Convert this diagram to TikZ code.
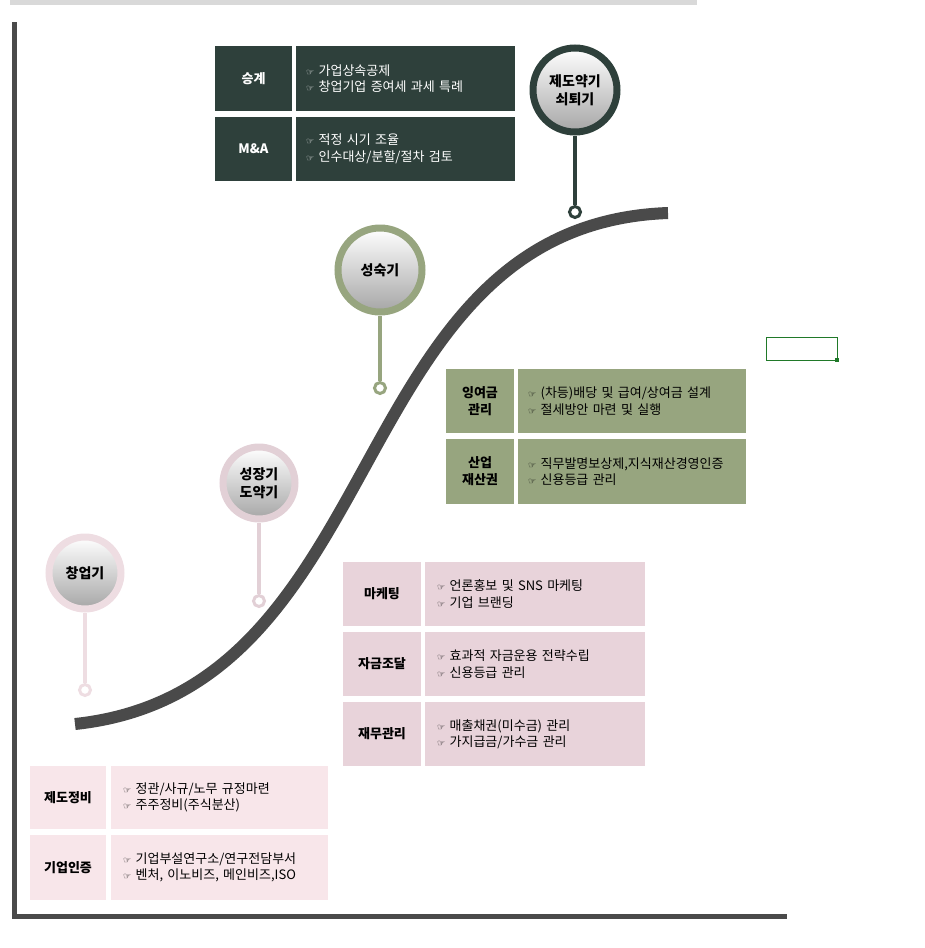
\documentclass[tikz,border=0pt]{standalone}
\usepackage{fontspec}
\setmainfont{Noto Sans CJK KR}
\newfontfamily\sym{DejaVu Sans}
\newcommand{\hand}{{\sym\fontsize{9}{10}\selectfont ☞}\ }
\definecolor{darkgr}{HTML}{2E403B}
\definecolor{olive}{HTML}{97A57F}
\definecolor{rose}{HTML}{E8D3DA}
\definecolor{blush}{HTML}{F8E6EA}
\definecolor{ringpink}{HTML}{EEDDE2}
\definecolor{ringrose}{HTML}{E2D0D6}
\definecolor{curvegr}{HTML}{4A4A4A}
\tikzset{
  lab/.style={anchor=north west,inner sep=0pt,align=center,font=\bfseries\fontsize{13}{17}\selectfont},
  cont/.style={anchor=north west,inner sep=0pt,text width=#1,align=left,font=\fontsize{13}{16.5}\selectfont},
  badge/.style={circle,draw=#1,line width=7pt,minimum size=72pt,inner sep=0pt,
    top color=white,bottom color=black!35,align=center,font=\bfseries\fontsize{14}{18}\selectfont},
  stem/.style={line width=3.5pt,draw=#1},
  knob/.style={circle,draw=#1,line width=3pt,fill=white,minimum size=11pt,inner sep=0pt}
}
\begin{document}
\begin{tikzpicture}[x=1pt,y=-1pt]
  \useasboundingbox (0,0) rectangle (924,948);
  \fill[black!15] (10,0) rectangle (697,5);
  % axes
  \draw[line width=5pt,curvegr] (14,22) -- (14,916) -- (787,916);
  % growth curve
  \draw[line width=12pt,curvegr] (75,724) .. controls (395,690) and (340,225) .. (668,213);
  % stage badges
  \foreach \cx/\cy/\r/\ky/\col/\txt/\nm in {85/573/72/690/ringpink/창업기/start,
      259/483/72/601/ringrose/성장기\\도약기/grow,
      380/270/84/388/olive/성숙기/mature,
      575/90/84/212/darkgr/제도약기\\쇠퇴기/renew}
  {
    \coordinate (\nm-k) at (\cx,\ky);
    \node[knob=\col] (\nm-knob) at (\nm-k) {};
    \node[badge=\col,minimum size=\r pt] (\nm) at (\cx,\cy) {\txt};
    \draw[stem=\col] (\nm.south) -- (\nm-knob.north);
  }
  % dark table
  \foreach \ya/\yb/\l/\c in {46/111/승계/{\hand 가업상속공제\\\hand 창업기업 증여세 과세 특례},
      117/181/M\&A/{\hand 적정 시기 조율\\\hand 인수대상/분할/절차 검토}}
  {
    \fill[darkgr] (215,\ya) rectangle (292,\yb);
    \fill[darkgr] (296,\ya) rectangle (515,\yb);
    \node[lab,anchor=center,text=white] at (253.5,{(\ya+\yb)/2}) {\l};
    \node[cont=205pt,anchor=west,text=white] at (306,{(\ya+\yb)/2}) {\c};
  }
  % green table
  \foreach \ya/\yb/\l/\c in {369/433/{잉여금\\관리}/{\hand (차등)배당 및 급여/상여금 설계\\\hand 절세방안 마련 및 실행},
      439/504/{산업\\재산권}/{\hand 직무발명보상제,지식재산경영인증\\\hand 신용등급 관리}}
  {
    \fill[olive] (446,\ya) rectangle (514,\yb);
    \fill[olive] (518,\ya) rectangle (746,\yb);
    \node[lab,anchor=center] at (480,{(\ya+\yb)/2}) {\l};
    \node[cont=222pt,anchor=west] at (528,{(\ya+\yb)/2}) {\c};
  }
  % pink table
  \foreach \ya/\yb/\l/\c in {562/626/마케팅/{\hand 언론홍보 및 SNS 마케팅\\\hand 기업 브랜딩},
      632/696/자금조달/{\hand 효과적 자금운용 전략수립\\\hand 신용등급 관리},
      702/766/재무관리/{\hand 매출채권(미수금) 관리\\\hand 가지급금/가수금 관리}}
  {
    \fill[rose] (343,\ya) rectangle (421,\yb);
    \fill[rose] (425,\ya) rectangle (645,\yb);
    \node[lab,anchor=center] at (382,{(\ya+\yb)/2}) {\l};
    \node[cont=210pt,anchor=west] at (437,{(\ya+\yb)/2}) {\c};
  }
  % bottom table
  \foreach \ya/\yb/\l/\c in {766/829/제도정비/{\hand 정관/사규/노무 규정마련\\\hand 주주정비(주식분산)},
      835/900/기업인증/{\hand 기업부설연구소/연구전담부서\\\hand 벤처, 이노비즈, 메인비즈,ISO}}
  {
    \fill[blush] (30,\ya) rectangle (106,\yb);
    \fill[blush] (111,\ya) rectangle (328,\yb);
    \node[lab,anchor=center] at (68,{(\ya+\yb)/2}) {\l};
    \node[cont=210pt,anchor=west] at (123,{(\ya+\yb)/2}) {\c};
  }
  % stray cell marker
  \draw[darkgr!70!green,line width=1pt] (766,337) rectangle (837,360);
  \fill[darkgr!70!green] (835,358) rectangle (839,362);
\end{tikzpicture}
\end{document}
